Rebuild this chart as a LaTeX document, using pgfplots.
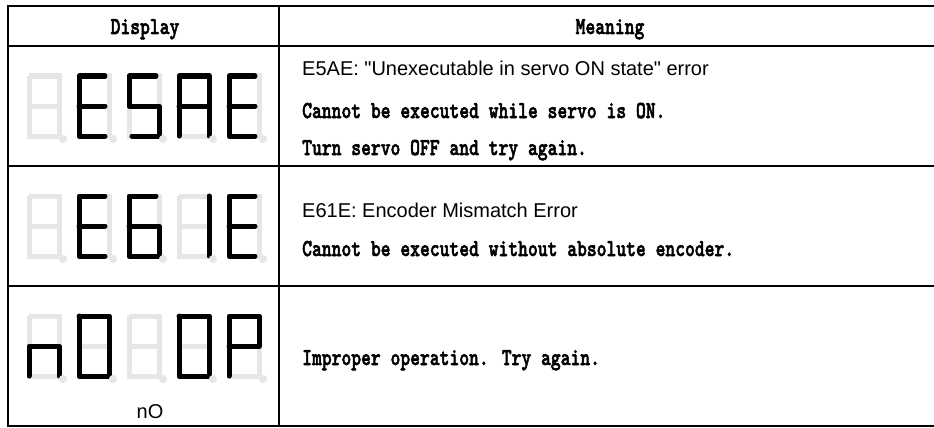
\documentclass[border=0pt]{standalone}
\usepackage{fontspec}
\usepackage{graphicx}
\usepackage{pgfplots}
\pgfplotsset{compat=1.18}
\newfontfamily\sansf{Liberation Sans}
\newfontfamily\monob{lmmonolt10-bold.otf}[FakeBold=2.5]
\definecolor{ghost}{HTML}{E6E6E6}
\newcommand{\mb}[1]{\scalebox{1}[1.3]{\fontsize{18.7}{20}\selectfont\monob #1}}
\newcommand{\sn}[1]{{\fontsize{20}{22}\selectfont\sansf #1}}
\begin{document}
\begin{tikzpicture}
\begin{axis}[
 width=934pt, height=428pt, scale only axis,
 xmin=0, xmax=934, ymin=0, ymax=428, y dir=reverse,
 axis line style={draw=none}, ticks=none,
 unbounded coords=jump,
]
\path (rel axis cs:0,0) rectangle (rel axis cs:1,1);
% ghost segments (all digit positions)
\addplot[ghost, line width=5pt, no markers] coordinates {
(29,76)(59,76)(59,136)(29,136)(29,76)(nan,nan)(29,106)(59,106)(nan,nan)
(79,76)(109,76)(109,136)(79,136)(79,76)(nan,nan)(79,106)(109,106)(nan,nan)
(129,76)(159,76)(159,136)(129,136)(129,76)(nan,nan)(129,106)(159,106)(nan,nan)
(179,76)(209,76)(209,136)(179,136)(179,76)(nan,nan)(179,106)(209,106)(nan,nan)
(229,76)(259,76)(259,136)(229,136)(229,76)(nan,nan)(229,106)(259,106)(nan,nan)
(29,196)(59,196)(59,256)(29,256)(29,196)(nan,nan)(29,226)(59,226)(nan,nan)
(79,196)(109,196)(109,256)(79,256)(79,196)(nan,nan)(79,226)(109,226)(nan,nan)
(129,196)(159,196)(159,256)(129,256)(129,196)(nan,nan)(129,226)(159,226)(nan,nan)
(179,196)(209,196)(209,256)(179,256)(179,196)(nan,nan)(179,226)(209,226)(nan,nan)
(229,196)(259,196)(259,256)(229,256)(229,196)(nan,nan)(229,226)(259,226)(nan,nan)
(29,316)(59,316)(59,376)(29,376)(29,316)(nan,nan)(29,346)(59,346)(nan,nan)
(79,316)(109,316)(109,376)(79,376)(79,316)(nan,nan)(79,346)(109,346)(nan,nan)
(129,316)(159,316)(159,376)(129,376)(129,316)(nan,nan)(129,346)(159,346)(nan,nan)
(179,316)(209,316)(209,376)(179,376)(179,316)(nan,nan)(179,346)(209,346)(nan,nan)
(229,316)(259,316)(259,376)(229,376)(229,316)(nan,nan)(229,346)(259,346)
};
% decimal points
\addplot[only marks, mark=*, mark size=3.8pt, mark options={draw=ghost, fill=ghost}] coordinates {
(63,139)(113,139)(163,139)(213,139)(263,139)
(63,259)(113,259)(163,259)(213,259)(263,259)
(63,379)(113,379)(163,379)(213,379)(263,379)
};
% lit segments
\addplot[black, line width=5pt, no markers, line cap=round, line join=round] coordinates {
(105,76)(79,76)(79,136)(105,136)(nan,nan)(79,106)(105,106)(nan,nan)
(156,76)(129,76)(129,106)(159,106)(159,136)(132,136)(nan,nan)
(179,136)(179,76)(209,76)(209,136)(nan,nan)(179,106)(209,106)(nan,nan)
(255,76)(229,76)(229,136)(255,136)(nan,nan)(229,106)(255,106)(nan,nan)
(105,196)(79,196)(79,256)(105,256)(nan,nan)(79,226)(105,226)(nan,nan)
(156,196)(129,196)(129,256)(159,256)(159,226)(129,226)(nan,nan)
(209,196)(209,256)(nan,nan)
(255,196)(229,196)(229,256)(255,256)(nan,nan)(229,226)(255,226)(nan,nan)
(29,376)(29,346)(59,346)(59,376)(nan,nan)
(79,316)(109,316)(109,376)(79,376)(79,316)(nan,nan)
(179,316)(209,316)(209,376)(179,376)(179,316)(nan,nan)
(229,376)(229,316)(259,316)(259,346)(229,346)
};
% table rules
\addplot[black, line width=2.6pt, no markers, line cap=rect] coordinates {
(940,6)(8,6)(8,426)(940,426)(nan,nan)
(8,46)(940,46)(nan,nan)
(8,166)(940,166)(nan,nan)
(8,286)(940,286)(nan,nan)
(279,6)(279,426)
};
% header
\node[anchor=base, inner sep=0pt] at (axis cs:145,34) {\mb{Display}};
\node[anchor=base, inner sep=0pt] at (axis cs:610,34) {\mb{Meaning}};
% row 1
\node[anchor=base west, inner sep=0pt] at (axis cs:302,75) {\sn{E5AE: "Unexecutable in servo ON state" error}};
\node[anchor=base west, inner sep=0pt] at (axis cs:302,118) {\mb{Cannot be executed while servo is ON.}};
\node[anchor=base west, inner sep=0pt] at (axis cs:302,155) {\mb{Turn servo OFF and try again.}};
% row 2
\node[anchor=base west, inner sep=0pt] at (axis cs:302,217) {\sn{E61E: Encoder Mismatch Error}};
\node[anchor=base west, inner sep=0pt] at (axis cs:302,256) {\mb{Cannot be executed without absolute encoder.}};
% row 3
\node[anchor=base west, inner sep=0pt] at (axis cs:302,365) {\mb{Improper operation. Try again.}};
\node[anchor=base, inner sep=0pt] at (axis cs:150,418) {\sn{nO}};
\end{axis}
\end{tikzpicture}
\end{document}
